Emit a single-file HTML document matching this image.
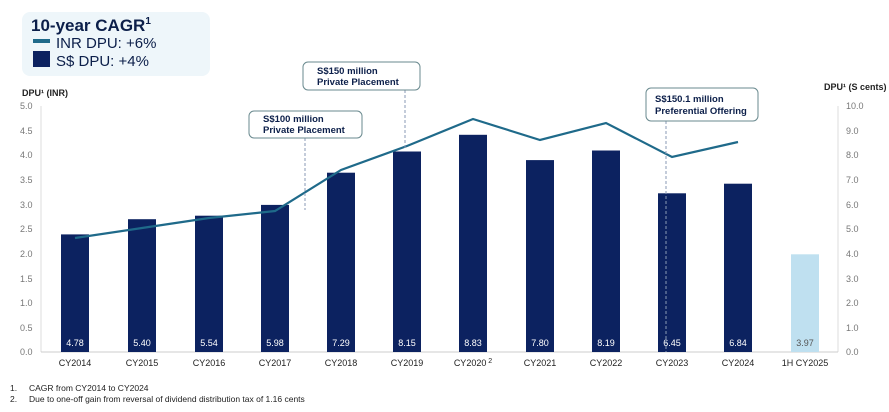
<!DOCTYPE html>
<html><head><style>
body{margin:0;background:#fff;font-family:"Liberation Sans",Arial,sans-serif;}
</style></head><body>
<svg width="889" height="407" xmlns="http://www.w3.org/2000/svg" font-family="Liberation Sans, Arial, sans-serif">
<rect x="22" y="12" width="188" height="64" rx="8" fill="#eef6fa"/>
<text x="31" y="31" font-size="17" font-weight="bold" fill="#0c1f4a">10-year CAGR<tspan font-size="10" dy="-7">1</tspan></text>
<rect x="33" y="39" width="17" height="4" fill="#1f6a8a"/>
<text x="56" y="48" font-size="15" fill="#0c1f4a">INR DPU: +6%</text>
<rect x="33" y="51" width="17" height="16" fill="#0c2260"/>
<text x="56" y="66" font-size="15" fill="#0c1f4a">S$ DPU: +4%</text>
<text x="22" y="96" font-size="9" font-weight="bold" fill="#222">DPU¹ (INR)</text>
<text x="824" y="90" font-size="9" font-weight="bold" fill="#222">DPU¹ (S cents)</text>
<g font-size="9" fill="#777">
<text x="20" y="109">5.0</text><text x="20" y="134">4.5</text><text x="20" y="158">4.0</text><text x="20" y="183">3.5</text><text x="20" y="208">3.0</text><text x="20" y="232">2.5</text><text x="20" y="257">2.0</text><text x="20" y="282">1.5</text><text x="20" y="306">1.0</text><text x="20" y="331">0.5</text><text x="20" y="355">0.0</text>
<text x="846" y="109">10.0</text><text x="846" y="134">9.0</text><text x="846" y="158">8.0</text><text x="846" y="183">7.0</text><text x="846" y="208">6.0</text><text x="846" y="232">5.0</text><text x="846" y="257">4.0</text><text x="846" y="282">3.0</text><text x="846" y="306">2.0</text><text x="846" y="331">1.0</text><text x="846" y="355">0.0</text>
</g>
<line x1="41" y1="106" x2="41" y2="352" stroke="#ddd"/>
<line x1="838" y1="106" x2="838" y2="352" stroke="#ddd"/>
<line x1="41" y1="352" x2="838" y2="352" stroke="#ccc"/>
<g fill="#0c2260">
<rect x="61" y="234.4" width="28" height="117.6"/>
<rect x="128" y="219.2" width="28" height="132.8"/>
<rect x="195" y="215.7" width="28" height="136.3"/>
<rect x="261" y="204.9" width="28" height="147.1"/>
<rect x="327" y="172.7" width="28" height="179.3"/>
<rect x="393" y="151.5" width="28" height="200.5"/>
<rect x="459" y="134.8" width="28" height="217.2"/>
<rect x="526" y="160.1" width="28" height="191.9"/>
<rect x="592" y="150.5" width="28" height="201.5"/>
<rect x="658" y="193.3" width="28" height="158.7"/>
<rect x="724" y="183.7" width="28" height="168.3"/>
</g>
<rect x="791" y="254.3" width="28" height="97.7" fill="#bfe0f0"/>
<g font-size="9" fill="#fff" text-anchor="middle">
<text x="75" y="346">4.78</text><text x="142" y="346">5.40</text><text x="209" y="346">5.54</text><text x="275" y="346">5.98</text><text x="341" y="346">7.29</text><text x="407" y="346">8.15</text><text x="473" y="346">8.83</text><text x="540" y="346">7.80</text><text x="606" y="346">8.19</text><text x="672" y="346">6.45</text><text x="738" y="346">6.84</text>
</g>
<text x="805" y="346" font-size="9" fill="#555" text-anchor="middle">3.97</text>
<polyline points="75,238 142,228 209,218 275,211 341,170 407,146 473,119 540,140 606,123 672,157 738,142" fill="none" stroke="#1f6a8a" stroke-width="2.2"/>
<g stroke="#8a9ab5" stroke-dasharray="3,2" stroke-width="1">
<line x1="305" y1="138" x2="305" y2="210"/>
<line x1="405" y1="90" x2="405" y2="148"/>
<line x1="666" y1="121" x2="666" y2="352"/>
</g>
<g fill="#fff" stroke="#6a8a8f" stroke-width="1">
<rect x="249" y="111" width="113" height="27" rx="5"/>
<rect x="303" y="62" width="117" height="28" rx="5"/>
<rect x="646" y="88" width="112" height="33" rx="5"/>
</g>
<g font-size="9.5" font-weight="bold" fill="#0c1f4a">
<text x="263" y="122">S$100 million</text><text x="263" y="133">Private Placement</text>
<text x="317" y="74">S$150 million</text><text x="317" y="85">Private Placement</text>
<text x="655" y="102">S$150.1 million</text><text x="655" y="114">Preferential Offering</text>
</g>
<g font-size="9" fill="#222" text-anchor="middle">
<text x="75" y="366">CY2014</text><text x="142" y="366">CY2015</text><text x="209" y="366">CY2016</text><text x="275" y="366">CY2017</text><text x="341" y="366">CY2018</text><text x="407" y="366">CY2019</text><text x="473" y="366">CY2020<tspan font-size="7" dy="-3"> 2</tspan></text><text x="540" y="366">CY2021</text><text x="606" y="366">CY2022</text><text x="672" y="366">CY2023</text><text x="738" y="366">CY2024</text><text x="805" y="366">1H CY2025</text>
</g>
<g font-size="8.5" fill="#222">
<text x="10" y="391">1.</text><text x="29" y="391">CAGR from CY2014 to CY2024</text>
<text x="10" y="402">2.</text><text x="29" y="402">Due to one-off gain from reversal of dividend distribution tax of 1.16 cents</text>
</g>
</svg>
</body></html>
